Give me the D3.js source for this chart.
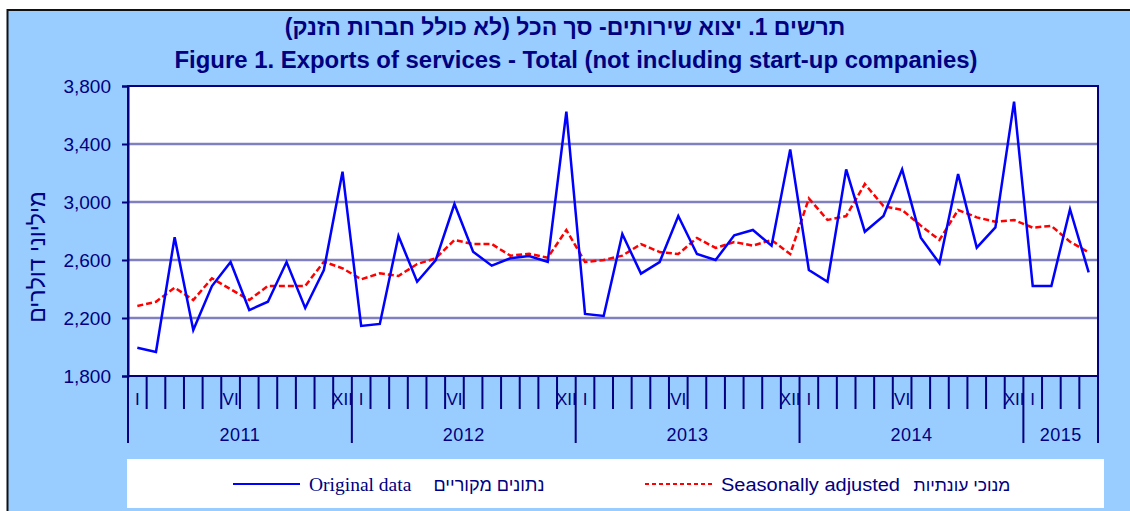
<!DOCTYPE html>
<html>
<head>
<meta charset="utf-8">
<script src="https://cdn.jsdelivr.net/npm/d3@7"></script>
<style>
  body { margin: 0; background: #fff; }
  svg { display: block; }
  text { fill: #000080; }
</style>
</head>
<body>
<script>
const w = 1130;
const h = 511;
const navy = "#000080";

// * DATA (Jan 2011 - Apr 2015, millions of dollars)
const years = ["2011", "2012", "2013", "2014", "2015"];
const monthsPerYear = [12, 12, 12, 12, 4];
const monthNames = ["I", "II", "III", "IV", "V", "VI", "VII", "VIII", "IX", "X", "XI", "XII"];
const shownMonths = ["I", "VI", "XII"];
const yTicks = [1800, 2200, 2600, 3000, 3400, 3800];

const original = [
	1995, 1966, 2757, 2117, 2420, 2586, 2255, 2312, 2586, 2269, 2531, 3209,
	2145, 2159, 2766, 2450, 2600, 2986, 2657, 2561, 2612, 2628, 2588, 3623,
	2228, 2214, 2779, 2506, 2586, 2903, 2641, 2600, 2770, 2807, 2699, 3363,
	2531, 2450, 3225, 2795, 2903, 3225, 2754, 2577, 3193, 2685, 2825, 3692,
	2421, 2421, 2950, 2515
];
const seasonal = [
	2283, 2312, 2409, 2324, 2474, 2398, 2324, 2421, 2421, 2421, 2588, 2543,
	2467, 2508, 2490, 2572, 2612, 2738, 2710, 2710, 2630, 2643, 2616, 2807,
	2586, 2600, 2630, 2710, 2655, 2641, 2752, 2683, 2724, 2699, 2738, 2641,
	3025, 2876, 2903, 3124, 2972, 2945, 2837, 2738, 2945, 2894, 2864, 2876,
	2823, 2835, 2726, 2653
];

const titleHe = "תרשים 1.  יצוא שירותים- סך הכל (לא כולל חברות הזנק)";
const titleEn = "Figure 1. Exports of services - Total (not including start-up companies)";
const yTitle = "מיליוני דולרים";
const legendItems = [
	{ en: "Original data", he: "נתונים מקוריים" },
	{ en: "Seasonally adjusted", he: "מנוכי עונתיות" }
];

// month keys
const months = [];
years.forEach((yr, yi) => {
	for (let m = 0; m < monthsPerYear[yi]; m++) {
		months.push({ key: yr + "-" + m, year: yr, label: monthNames[m] });
	}
});

// * SVG BASE SETUP
const svg = d3.select("body").append("svg").attr("width", w).attr("height", h);

svg.append("rect")
	.attr("x", 7.5).attr("y", 10)
	.attr("width", w).attr("height", h)
	.attr("fill", "#99CCFF")
	.attr("stroke", "#111").attr("stroke-width", 2);

// * SCALES
const plotL = 128, plotR = 1098, plotT = 86, plotB = 376;
const xScale = d3.scaleBand()
	.domain(months.map((d) => d.key))
	.range([plotL, plotR]);
const yScale = d3.scaleLinear()
	.domain([1800, 3800])
	.range([plotB, plotT]);
const cx = (i) => xScale(months[i].key) + xScale.bandwidth() / 2;

// plot area
svg.append("rect")
	.attr("x", plotL).attr("y", plotT)
	.attr("width", plotR - plotL).attr("height", plotB - plotT)
	.attr("fill", "#fff");

// grid
svg.append("g")
	.selectAll("line")
	.data(yTicks.slice(1, -1))
	.enter()
	.append("line")
	.attr("x1", plotL).attr("x2", plotR)
	.attr("y1", (d) => yScale(d)).attr("y2", (d) => yScale(d))
	.attr("stroke", "#8080C0")
	.attr("stroke-width", 2.5);

svg.append("rect")
	.attr("x", plotL).attr("y", plotT)
	.attr("width", plotR - plotL).attr("height", plotB - plotT)
	.attr("fill", "none")
	.attr("stroke", navy).attr("stroke-width", 2);

// * Y AXIS
const yAxis = d3.axisLeft(yScale)
	.tickValues(yTicks)
	.tickSize(6)
	.tickPadding(11)
	.tickFormat(d3.format(","));
const gy = svg.append("g")
	.attr("transform", "translate(" + plotL + ",0)")
	.call(yAxis);
gy.select(".domain").attr("stroke", navy).attr("stroke-width", 2);
gy.selectAll(".tick line").attr("stroke", navy).attr("stroke-width", 2);
gy.selectAll(".tick text")
	.attr("fill", navy)
	.style("font-family", "'Liberation Sans', Arial, sans-serif")
	.style("font-size", "19px");

// * X AXIS (month ticks between categories, longer at year boundaries)
const boundaries = d3.range(months.length + 1);
const yearStarts = [0];
monthsPerYear.forEach((n, i) => yearStarts.push(yearStarts[i] + n));
const bx = (i) => (i < months.length ? xScale(months[i].key) : plotR);

svg.append("g")
	.selectAll("line")
	.data(boundaries)
	.enter()
	.append("line")
	.attr("x1", (d) => bx(d)).attr("x2", (d) => bx(d))
	.attr("y1", plotB)
	.attr("y2", (d) => (yearStarts.includes(d) ? 443 : 409))
	.attr("stroke", navy)
	.attr("stroke-width", 2);

svg.append("g")
	.selectAll("text")
	.data(months.map((d, i) => ({ ...d, i })).filter((d) => shownMonths.includes(d.label)))
	.enter()
	.append("text")
	.attr("x", (d) => cx(d.i))
	.attr("y", 405)
	.attr("text-anchor", "middle")
	.style("font-family", "'Liberation Sans', Arial, sans-serif")
	.style("font-size", "17px")
	.text((d) => d.label);

svg.append("g")
	.selectAll("text")
	.data(years)
	.enter()
	.append("text")
	.attr("x", (d, i) => (bx(yearStarts[i]) + bx(yearStarts[i + 1])) / 2)
	.attr("y", 441)
	.attr("text-anchor", "middle")
	.style("font-family", "'Liberation Sans', Arial, sans-serif")
	.style("font-size", "18px")
	.style("letter-spacing", "0.5px")
	.text((d) => d);

// * LINES
const line = d3.line()
	.x((d, i) => cx(i))
	.y((d) => yScale(d));

svg.append("path")
	.datum(seasonal)
	.attr("d", line)
	.attr("fill", "none")
	.attr("stroke", "#FF0000")
	.attr("stroke-width", 2.5)
	.attr("stroke-dasharray", "6,3");

svg.append("path")
	.datum(original)
	.attr("d", line)
	.attr("fill", "none")
	.attr("stroke", "#0000FF")
	.attr("stroke-width", 2.5);

// * TITLES
svg.append("text")
	.attr("x", 565)
	.attr("y", 35)
	.attr("text-anchor", "middle")
	.attr("direction", "rtl")
	.style("font-family", "'Liberation Sans', Arial, sans-serif")
	.style("font-weight", "bold")
	.style("font-size", "23px")
	.text(titleHe);

svg.append("text")
	.attr("x", 576)
	.attr("y", 68)
	.attr("text-anchor", "middle")
	.attr("textLength", 803)
	.attr("lengthAdjust", "spacingAndGlyphs")
	.style("font-family", "'Liberation Sans', Arial, sans-serif")
	.style("font-weight", "bold")
	.style("font-size", "23px")
	.text(titleEn);

svg.append("text")
	.attr("transform", "translate(45,257) rotate(-90)")
	.attr("text-anchor", "middle")
	.attr("direction", "rtl")
	.style("font-family", "'Liberation Sans', Arial, sans-serif")
	.style("font-size", "23px")
	.text(yTitle);

// * LEGEND
svg.append("rect")
	.attr("x", 127).attr("y", 459)
	.attr("width", 977).attr("height", 49)
	.attr("fill", "#fff");

svg.append("line")
	.attr("x1", 233).attr("x2", 300)
	.attr("y1", 484).attr("y2", 484)
	.attr("stroke", "#0000FF").attr("stroke-width", 2);
svg.append("text")
	.attr("x", 309).attr("y", 491)
	.style("font-family", "'Liberation Serif', 'Times New Roman', serif")
	.style("font-size", "19.5px")
	.text(legendItems[0].en);
svg.append("text")
	.attr("x", 489).attr("y", 491)
	.attr("text-anchor", "middle")
	.attr("direction", "rtl")
	.style("font-family", "'Liberation Sans', Arial, sans-serif")
	.style("font-size", "18px")
	.text(legendItems[0].he);

svg.append("line")
	.attr("x1", 645).attr("x2", 714)
	.attr("y1", 484).attr("y2", 484)
	.attr("stroke", "#FF0000").attr("stroke-width", 2)
	.attr("stroke-dasharray", "4,3");
svg.append("text")
	.attr("x", 721).attr("y", 491)
	.attr("textLength", 179)
	.attr("lengthAdjust", "spacingAndGlyphs")
	.style("font-family", "'Liberation Sans', Arial, sans-serif")
	.style("font-size", "18px")
	.text(legendItems[1].en);
svg.append("text")
	.attr("x", 962).attr("y", 491)
	.attr("text-anchor", "middle")
	.attr("direction", "rtl")
	.style("font-family", "'Liberation Sans', Arial, sans-serif")
	.style("font-size", "17.5px")
	.text(legendItems[1].he);
</script>
</body>
</html>
